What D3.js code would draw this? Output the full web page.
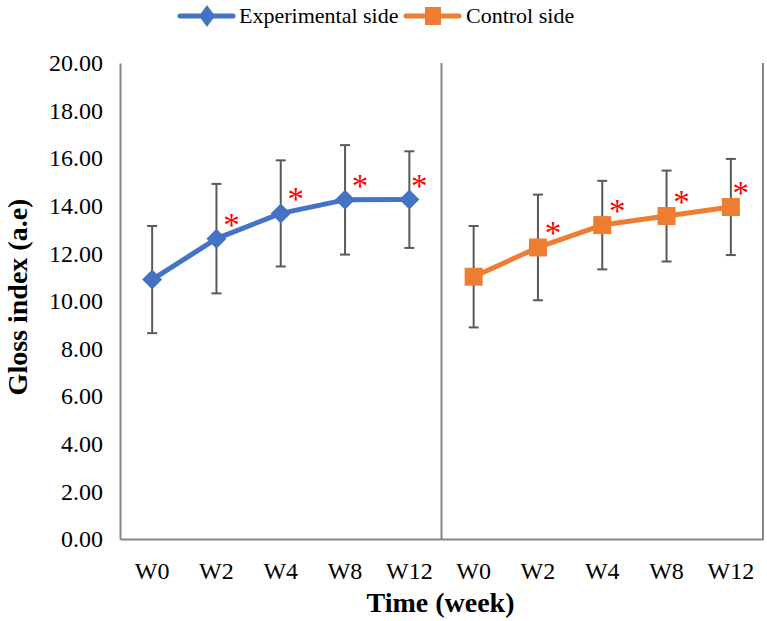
<!DOCTYPE html>
<html>
<head>
<meta charset="utf-8">
<script src="https://cdn.jsdelivr.net/npm/d3@7"></script>
<style>
  html, body { margin: 0; padding: 0; background: #fff; }
  svg { display: block; }
  svg text { font-family: "Liberation Serif", "Times New Roman", serif; }
</style>
</head>
<body>
<svg id="chart" width="767" height="621"></svg>
<script>
// ---- data ----
const weeks = ["W0", "W2", "W4", "W8", "W12"];
const seriesNames = ["Experimental side", "Control side"];
const experimentalMean = [10.90, 12.62, 13.68, 14.25, 14.26];
const experimentalSD   = [2.25, 2.30, 2.23, 2.30, 2.03];
const controlMean      = [11.02, 12.25, 13.19, 13.57, 13.95];
const controlSD        = [2.13, 2.22, 1.86, 1.91, 2.02];
const experimentalSig  = [false, true, true, true, true];
const controlSig       = [false, true, true, true, true];
const yTicks = [0, 2, 4, 6, 8, 10, 12, 14, 16, 18, 20];
const colors = ["#4472C4", "#ED7D31"];

const series = [
  { name: seriesNames[0], mean: experimentalMean, sd: experimentalSD, sig: experimentalSig, color: colors[0], shape: "diamond" },
  { name: seriesNames[1], mean: controlMean, sd: controlSD, sig: controlSig, color: colors[1], shape: "square" }
];

// ---- layout ----
const svg = d3.select("#chart");
const mLeft = 120, mRight = 763, mTop = 63, mBottom = 539;
const axisColor = "#868686";
const serif = '"Liberation Serif", "Times New Roman", serif';

const y = d3.scaleLinear().domain([0, 20]).range([mBottom, mTop]);
const outer = d3.scaleBand().domain(seriesNames).range([mLeft, mRight]);
const inner = d3.scaleBand().domain(weeks).range([0, outer.bandwidth()]);

// y axis
const yAxis = svg.append("g")
  .attr("transform", `translate(${mLeft},0)`)
  .call(d3.axisLeft(y).tickValues(yTicks).tickFormat(d3.format(".2f")).tickSize(0).tickSizeOuter(0).tickPadding(17));
yAxis.attr("font-family", null);
yAxis.select(".domain").attr("stroke", axisColor).attr("stroke-width", 2);
yAxis.selectAll("text").style("font-family", serif).style("font-size", "24px").attr("fill", "#000");

// panels
series.forEach((s, si) => {
  const g = svg.append("g").attr("transform", `translate(${outer(s.name)},0)`);
  const cx = w => inner(w) + inner.bandwidth() / 2;

  // x axis
  const xa = g.append("g").attr("transform", `translate(0,${mBottom})`)
    .call(d3.axisBottom(inner).tickSize(0).tickSizeOuter(0).tickPadding(23));
  xa.attr("font-family", null);
  xa.select(".domain").attr("stroke", axisColor).attr("stroke-width", 2);
  xa.selectAll("text").style("font-family", serif).style("font-size", "24px").attr("fill", "#000");

  // right border / divider
  g.append("line")
    .attr("x1", outer.bandwidth()).attr("x2", outer.bandwidth())
    .attr("y1", y(20)).attr("y2", mBottom + 1)
    .attr("stroke", axisColor).attr("stroke-width", 2);

  const pts = weeks.map((w, i) => ({ w, m: s.mean[i], sd: s.sd[i], sig: s.sig[i] }));

  // error bars
  const eb = g.selectAll(".eb").data(pts).enter().append("g").attr("class", "eb");
  eb.append("line")
    .attr("x1", d => cx(d.w)).attr("x2", d => cx(d.w))
    .attr("y1", d => y(d.m + d.sd)).attr("y2", d => y(d.m - d.sd))
    .attr("stroke", "#595959").attr("stroke-width", 2);
  [1, -1].forEach(sign => {
    eb.append("line")
      .attr("x1", d => cx(d.w) - 5).attr("x2", d => cx(d.w) + 5)
      .attr("y1", d => y(d.m + sign * d.sd)).attr("y2", d => y(d.m + sign * d.sd))
      .attr("stroke", "#595959").attr("stroke-width", 2);
  });

  // line
  g.append("path").datum(pts)
    .attr("d", d3.line().x(d => cx(d.w)).y(d => y(d.m)))
    .attr("fill", "none").attr("stroke", s.color).attr("stroke-width", 5)
    .attr("stroke-linejoin", "round");

  // markers
  g.selectAll(".mk").data(pts).enter().append("path")
    .attr("transform", d => `translate(${cx(d.w)},${y(d.m)})`)
    .attr("d", s.shape === "diamond" ? "M0,-10L10,0L0,10L-10,0Z" : "M-9,-9H9V9H-9Z")
    .attr("fill", s.color);

  // significance asterisks
  g.selectAll(".sig").data(pts.filter(d => d.sig)).enter().append("text")
    .attr("x", d => cx(d.w) + (d.w === "W12" ? 10 : 15))
    .attr("y", d => y(d.m) - 3)
    .attr("text-anchor", "middle")
    .style("font-size", "33px").style("font-family", serif)
    .attr("fill", "#FF0000")
    .text("*");
});

// axis titles
svg.append("text")
  .attr("x", (mLeft + mRight) / 2 - 1).attr("y", 612)
  .attr("text-anchor", "middle").attr("font-weight", "bold").style("font-size", "28px")
  .text("Time (week)");
svg.append("text")
  .attr("transform", `translate(27,297) rotate(-90)`)
  .attr("text-anchor", "middle").attr("font-weight", "bold").style("font-size", "28px")
  .text("Gloss index (a.e)");

// legend
const legend = svg.append("g");
const legendItems = [
  { s: series[0], x0: 180, tx: 239 },
  { s: series[1], x0: 406, tx: 466 }
];
legendItems.forEach(li => {
  const lg = legend.append("g");
  lg.append("line").attr("x1", li.x0).attr("x2", li.x0 + 53).attr("y1", 16).attr("y2", 16)
    .attr("stroke", li.s.color).attr("stroke-width", 5).attr("stroke-linecap", "round");
  lg.append("path").attr("transform", `translate(${li.x0 + 27},16)`)
    .attr("d", li.s.shape === "diamond" ? "M0,-11L8,0L0,11L-8,0Z" : "M-8,-9H8V9H-8Z")
    .attr("fill", li.s.color);
  lg.append("text").attr("x", li.tx).attr("y", 23).style("font-size", "22px").attr("fill", "#000")
    .text(li.s.name);
});
</script>
</body>
</html>
